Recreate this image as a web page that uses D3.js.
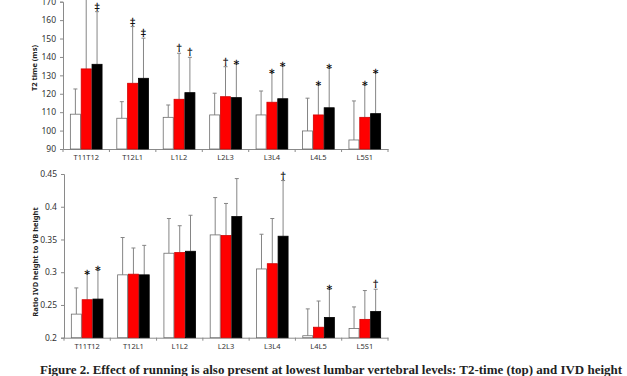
<!DOCTYPE html>
<html>
<head>
<meta charset="utf-8">
<script src="https://cdn.jsdelivr.net/npm/d3@7"></script>
<style>
  body { margin: 0; background: #fff; }
  svg { display: block; }
  .tick text { font-family: "Noto Sans", sans-serif; fill: #333; }
  .mark { -webkit-font-smoothing: antialiased; text-rendering: geometricPrecision; }
</style>
</head>
<body>
<svg id="chart"></svg>
<script>
const W = 627;
const H = 376;

// data
const levels = ["T11T12", "T12L1", "L1L2", "L2L3", "L3L4", "L4L5", "L5S1"];
const groups = ["control", "groupA", "groupB"];

const t2Control = [108.9, 106.7, 107.2, 108.5, 108.5, 99.8, 94.9];
const t2ControlSd = [13.7, 9.0, 6.7, 11.8, 13.0, 17.8, 21.2];
const t2GroupA = [133.5, 125.7, 117.0, 118.4, 115.4, 108.5, 107.2];
const t2GroupASd = [38.5, 30.8, 25.0, 16.3, 16.1, 16.3, 17.6];
const t2GroupB = [136.0, 128.4, 120.6, 117.9, 117.3, 112.4, 109.2];
const t2GroupBSd = [28.6, 21.8, 19.2, 18.3, 17.8, 21.5, 22.3];
const t2MarksA = ["‡", "‡", "†", "†", "*", "*", "*"];
const t2MarksB = ["‡", "‡", "†", "*", "*", "*", "*"];
const t2Ticks = [90, 100, 110, 120, 130, 140, 150, 160, 170];

const ivdControl = [0.236, 0.296, 0.329, 0.357, 0.305, 0.203, 0.214];
const ivdControlSd = [0.040, 0.057, 0.053, 0.057, 0.053, 0.041, 0.033];
const ivdGroupA = [0.258, 0.297, 0.330, 0.356, 0.313, 0.216, 0.228];
const ivdGroupASd = [0.040, 0.040, 0.041, 0.049, 0.069, 0.040, 0.044];
const ivdGroupB = [0.259, 0.296, 0.332, 0.385, 0.355, 0.231, 0.240];
const ivdGroupBSd = [0.044, 0.045, 0.055, 0.058, 0.085, 0.043, 0.034];
const ivdMarksA = ["*", "", "", "", "", "", ""];
const ivdMarksB = ["*", "", "", "", "†", "*", "†"];
const ivdTicks = [0.2, 0.25, 0.3, 0.35, 0.4, 0.45];

const noMarks = levels.map(() => "");

const fills = { control: "#ffffff", groupA: "#ff0000", groupB: "#000000" };
const strokes = { control: "#6e6e6e", groupA: "#d00000", groupB: "#000000" };

const svg = d3.select("#chart")
    .attr("width", W)
    .attr("height", H);

function buildRows(means, sds, marks) {
    return levels.map((lv, i) => ({
        level: lv,
        bars: groups.map((g, k) => ({
            group: g,
            value: means[k][i],
            sd: sds[k][i],
            mark: marks[k][i]
        }))
    }));
}

function drawPanel(opts) {
    const x = d3.scaleBand()
        .domain(levels)
        .range([opts.left, opts.right])
        .paddingInner(0.3)
        .paddingOuter(0.15);

    const xi = d3.scaleBand()
        .domain(groups)
        .range([0, x.bandwidth()]);

    const y = d3.scaleLinear()
        .domain(opts.domain)
        .range([opts.bottom, opts.top]);

    const g = svg.append("g");

    // Axis Y
    const yAxis = g.append("g")
        .attr("transform", `translate(${opts.left},0)`)
        .call(d3.axisLeft(y)
            .tickValues(opts.ticks)
            .tickSize(3)
            .tickPadding(4)
            .tickFormat(opts.format));
    yAxis.select(".domain").attr("stroke", "#8a8a8a");
    yAxis.selectAll(".tick line").attr("stroke", "#8a8a8a");
    yAxis.selectAll(".tick text").attr("font-size", 8.5);

    // Axis X (labels only, ticks at category boundaries)
    const xAxis = g.append("g")
        .attr("transform", `translate(0,${opts.bottom})`)
        .call(d3.axisBottom(x).tickSize(0).tickPadding(opts.labelPad));
    xAxis.select(".domain").attr("stroke", "#8a8a8a");
    xAxis.selectAll(".tick text").attr("font-size", 7.5);

    const step = x.step();
    const bounds = levels.map(l => x(l) - step * x.paddingInner() / 2)
        .concat([x(levels[levels.length - 1]) + x.bandwidth() + step * x.paddingInner() / 2]);
    g.selectAll(".xb")
        .data(bounds)
        .enter()
        .append("line")
        .attr("x1", d => d)
        .attr("x2", d => d)
        .attr("y1", opts.bottom)
        .attr("y2", opts.bottom + 3)
        .attr("stroke", "#8a8a8a");

    const rows = g.selectAll(".row")
        .data(opts.rows)
        .enter()
        .append("g")
        .attr("transform", d => `translate(${x(d.level)},0)`);

    const bar = rows.selectAll(".bar")
        .data(d => d.bars)
        .enter()
        .append("g");

    // error bars (upper only)
    bar.append("line")
        .attr("x1", d => xi(d.group) + xi.bandwidth() / 2)
        .attr("x2", d => xi(d.group) + xi.bandwidth() / 2)
        .attr("y1", d => y(d.value))
        .attr("y2", d => y(d.value + d.sd))
        .attr("stroke", "#858585")
        .attr("stroke-width", 1);

    bar.append("line")
        .attr("x1", d => xi(d.group) + xi.bandwidth() / 2 - 2)
        .attr("x2", d => xi(d.group) + xi.bandwidth() / 2 + 2)
        .attr("y1", d => y(d.value + d.sd))
        .attr("y2", d => y(d.value + d.sd))
        .attr("stroke", "#858585")
        .attr("stroke-width", 1);

    bar.append("rect")
        .attr("x", d => xi(d.group) + 0.4)
        .attr("y", d => y(d.value))
        .attr("width", xi.bandwidth() - 0.8)
        .attr("height", d => opts.bottom - y(d.value))
        .attr("fill", d => fills[d.group])
        .attr("stroke", d => strokes[d.group])
        .attr("stroke-width", 0.8);

    // significance marks
    bar.filter(d => d.mark)
        .append("text")
        .attr("class", "mark")
        .attr("x", d => xi(d.group) + xi.bandwidth() / 2)
        .attr("y", d => y(d.value + d.sd) - (d.mark === "*" ? -4 : 2))
        .attr("text-anchor", "middle")
        .attr("font-family", "'DejaVu Serif', serif")
        .attr("font-weight", "bold")
        .attr("font-size", d => d.mark === "*" ? 11 : 10)
        .attr("fill", "#000")
        .text(d => d.mark);

    // Label Y
    g.append("text")
        .attr("transform", "rotate(-90)")
        .attr("x", -opts.titleY)
        .attr("y", opts.left - 26)
        .attr("text-anchor", "middle")
        .attr("font-family", "'Noto Sans', sans-serif")
        .attr("font-weight", "bold")
        .attr("font-size", 7.5)
        .attr("fill", "#222")
        .text(opts.title);
}

drawPanel({
    rows: buildRows([t2Control, t2GroupA, t2GroupB],
        [t2ControlSd, t2GroupASd, t2GroupBSd],
        [noMarks, t2MarksA, t2MarksB]),
    domain: [90, 170],
    ticks: t2Ticks,
    format: d3.format("d"),
    left: 63,
    right: 388,
    top: 1.7,
    bottom: 149,
    labelPad: 6,
    title: "T2 time (ms)",
    titleY: 68
});

drawPanel({
    rows: buildRows([ivdControl, ivdGroupA, ivdGroupB],
        [ivdControlSd, ivdGroupASd, ivdGroupBSd],
        [noMarks, ivdMarksA, ivdMarksB]),
    domain: [0.2, 0.45],
    ticks: ivdTicks,
    format: d => String(+d.toFixed(2)),
    left: 64,
    right: 388,
    top: 174,
    bottom: 337.7,
    labelPad: 6,
    title: "Ratio IVD height to VB height",
    titleY: 262
});

// caption (sits at the bottom edge, as in the source crop)
svg.append("text")
    .attr("x", 40)
    .attr("y", 374)
    .attr("font-family", "'Liberation Serif', serif")
    .attr("font-weight", "bold")
    .attr("font-size", 12)
    .attr("fill", "#222")
    .attr("textLength", 582)
    .attr("lengthAdjust", "spacingAndGlyphs")
    .text("Figure 2.  Effect of running is also present at lowest lumbar vertebral levels: T2-time (top) and IVD height");
</script>
</body>
</html>
